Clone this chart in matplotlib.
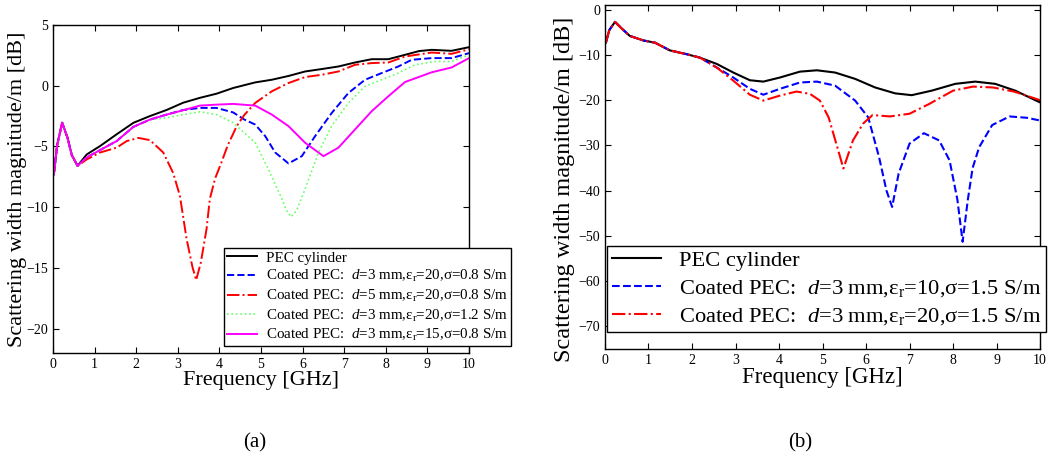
import matplotlib
matplotlib.use("Agg")
import matplotlib.pyplot as plt

plt.rcParams["font.family"] = ["Liberation Serif", "DejaVu Serif"]
plt.rcParams["mathtext.fontset"] = "custom"
plt.rcParams["mathtext.rm"] = "Liberation Serif"
plt.rcParams["mathtext.it"] = "Liberation Serif:italic"

# ---- panel (a) data ----
a_black_f = [0.02, 0.1, 0.22, 0.35, 0.45, 0.59, 0.81, 1.13, 1.53, 1.93, 2.33, 2.73, 3.13, 3.53,
             3.93, 4.33, 4.86, 5.26, 5.66, 6.06, 6.46, 6.86, 7.26, 7.66, 8.06, 8.46, 8.8, 9.1,
             9.58, 10.0]
a_black_db = [-7.3, -4.9, -3.05, -4.3, -5.7, -6.6, -5.66, -4.97, -4.0, -3.06, -2.5, -2.0, -1.4,
              -1.0, -0.66, -0.19, 0.27, 0.49, 0.8, 1.17, 1.37, 1.58, 1.91, 2.18, 2.18, 2.54, 2.85,
              2.95, 2.87, 3.17]

a_blue_f = [0.02, 0.1, 0.22, 0.35, 0.45, 0.59, 0.81, 1.13, 1.53, 1.93, 2.33, 2.73, 3.13, 3.53,
            3.93, 4.33, 4.6, 4.86, 5.1, 5.34, 5.66, 5.98, 6.3, 6.7, 7.1, 7.5, 7.9, 8.3, 8.62,
            9.1, 9.58, 10.0]
a_blue_db = [-7.3, -4.9, -3.05, -4.3, -5.7, -6.6, -5.9, -5.3, -4.56, -3.39, -2.79, -2.38, -2.0,
             -1.83, -1.83, -2.2, -2.79, -3.2, -4.15, -5.5, -6.4, -5.8, -4.15, -2.24, -0.6, 0.49,
             1.04, 1.58, 2.13, 2.27, 2.27, 2.68]

a_red_f = [0.02, 0.1, 0.22, 0.35, 0.45, 0.59, 0.81, 1.13, 1.53, 1.77, 2.05, 2.33, 2.65, 2.89,
           3.05, 3.21, 3.35, 3.44, 3.55, 3.69, 3.77, 3.9, 4.05, 4.2, 4.42, 4.6, 4.86, 5.26, 5.66,
           6.06, 6.46, 6.86, 7.26, 7.66, 8.06, 8.46, 9.1, 9.58, 10.0]
a_red_db = [-7.3, -4.9, -3.05, -4.3, -5.7, -6.6, -6.07, -5.5, -5.1, -4.56, -4.3, -4.48, -5.5,
            -7.2, -9.07, -12.6, -14.9, -16.0, -14.6, -11.8, -9.3, -7.6, -6.3, -4.9, -3.3, -2.4,
            -1.42, -0.46, 0.22, 0.71, 0.9, 1.17, 1.72, 1.86, 1.91, 2.4, 2.73, 2.62, 3.0]

a_green_f = [0.02, 0.1, 0.22, 0.35, 0.45, 0.59, 0.81, 1.13, 1.53, 1.93, 2.33, 2.73, 3.13, 3.53,
             3.93, 4.33, 4.6, 4.86, 5.18, 5.5, 5.6, 5.72, 5.85, 6.06, 6.38, 6.7, 7.1, 7.5, 7.9,
             8.3, 8.7, 9.18, 9.58, 10.0]
a_green_db = [-7.3, -4.9, -3.05, -4.3, -5.7, -6.6, -5.9, -5.3, -4.56, -3.39, -2.79, -2.65, -2.38,
              -2.15, -2.38, -3.06, -3.88, -4.7, -6.9, -9.3, -10.2, -10.8, -10.3, -8.5, -5.5, -3.3,
              -1.42, -0.05, 0.49, 1.04, 1.72, 1.99, 1.99, 2.54]

a_mag_f = [0.02, 0.1, 0.22, 0.35, 0.45, 0.59, 0.81, 1.13, 1.53, 1.93, 2.33, 2.73, 3.13, 3.53,
           3.93, 4.33, 4.86, 5.26, 5.66, 6.06, 6.5, 6.86, 7.26, 7.66, 8.06, 8.46, 9.1, 9.58, 10.0]
a_mag_db = [-7.3, -4.9, -3.05, -4.3, -5.7, -6.6, -5.9, -5.3, -4.56, -3.39, -2.79, -2.38, -2.02,
            -1.64, -1.56, -1.5, -1.64, -2.38, -3.33, -4.7, -5.8, -5.1, -3.6, -2.1, -0.87, 0.3,
            1.1, 1.5, 2.27]

a_labels = [
    "PEC cylinder",
    r"Coated PEC:  $d$=3 mm,ε$_\mathrm{r}$=20,σ=0.8 S/m",
    r"Coated PEC:  $d$=5 mm,ε$_\mathrm{r}$=20,σ=0.8 S/m",
    r"Coated PEC:  $d$=3 mm,ε$_\mathrm{r}$=20,σ=1.2 S/m",
    r"Coated PEC:  $d$=3 mm,ε$_\mathrm{r}$=15,σ=0.8 S/m",
]

# ---- panel (b) data ----
b_black_f = [0.02, 0.1, 0.23, 0.4, 0.57, 0.88, 1.15, 1.49, 1.88, 2.18, 2.57, 2.95, 3.33, 3.64,
             4.02, 4.48, 4.87, 5.29, 5.75, 6.21, 6.67, 7.05, 7.51, 8.05, 8.51, 8.97, 9.43, 10.0]
b_black_db = [-7.3, -4.5, -2.7, -4.3, -5.8, -6.8, -7.3, -9.0, -9.85, -10.6, -12.0, -13.9, -15.6,
              -15.9, -15.0, -13.7, -13.4, -13.9, -15.3, -17.2, -18.5, -18.9, -17.9, -16.4, -15.9,
              -16.4, -17.9, -20.5]

b_blue_f = [0.02, 0.1, 0.23, 0.4, 0.57, 0.88, 1.15, 1.49, 1.88, 2.18, 2.57, 2.95, 3.33, 3.64,
            4.02, 4.48, 4.87, 5.29, 5.75, 6.05, 6.3, 6.47, 6.6, 6.75, 7.0, 7.33, 7.68, 7.92, 8.1,
            8.22, 8.34, 8.45, 8.6, 8.9, 9.3, 9.7, 10.0]
b_blue_db = [-7.3, -4.5, -2.7, -4.3, -5.8, -6.8, -7.3, -9.0, -9.85, -10.6, -12.8, -15.0, -17.5,
             -18.8, -17.5, -16.1, -15.9, -16.8, -20.1, -23.8, -32.6, -40.0, -43.6, -36.2, -29.6,
             -27.3, -28.9, -33.3, -42.0, -51.3, -42.0, -35.0, -30.4, -25.5, -23.6, -23.9, -24.5]

b_red_f = [0.02, 0.1, 0.23, 0.4, 0.57, 0.88, 1.15, 1.49, 1.88, 2.18, 2.57, 2.95, 3.33, 3.64,
           4.02, 4.4, 4.71, 4.94, 5.14, 5.34, 5.48, 5.7, 5.93, 6.15, 6.55, 7.0, 7.46, 8.0, 8.46,
           8.92, 9.4, 10.0]
b_red_db = [-7.3, -4.5, -2.7, -4.3, -5.8, -6.8, -7.3, -9.0, -9.85, -10.6, -12.8, -15.7, -18.8,
            -20.1, -19.0, -18.1, -18.6, -20.1, -23.8, -30.4, -35.1, -28.9, -25.2, -23.3, -23.6,
            -23.0, -20.8, -17.9, -17.0, -17.2, -18.1, -20.0]

b_labels = [
    "PEC cylinder",
    r"Coated PEC:  $d$=3 mm,ε$_\mathrm{r}$=10,σ=1.5 S/m",
    r"Coated PEC:  $d$=3 mm,ε$_\mathrm{r}$=20,σ=1.5 S/m",
]

xticks = list(range(0, 11))
a_yticks = [-20, -15, -10, -5, 0, 5]
b_yticks = [0, -10, -20, -30, -40, -50, -60, -70]

BLUE = "#0000ff"
RED = "#ff0000"
GREEN = "#66ff66"
MAG = "#ff00ff"


def style_axes(ax, label_size):
    ax.set_xlim(0, 10)
    ax.set_xticks(xticks)
    ax.tick_params(direction="in", top=True, right=True, labelsize=label_size, length=4,
                   width=0.8)
    for s in ax.spines.values():
        s.set_linewidth(1.0)


fig = plt.figure(figsize=(10.56, 4.66), dpi=100)

# (a)
ax1 = fig.add_axes([0.0502, 0.2425, 0.394, 0.704])
ax1.plot(a_black_f, a_black_db, "-", color="k", lw=1.4, label=a_labels[0])
ax1.plot(a_blue_f, a_blue_db, "--", color=BLUE, lw=1.4, label=a_labels[1])
ax1.plot(a_red_f, a_red_db, "-.", color=RED, lw=1.4, label=a_labels[2])
ax1.plot(a_green_f, a_green_db, ":", color=GREEN, lw=1.2, label=a_labels[3])
ax1.plot(a_mag_f, a_mag_db, "-", color=MAG, lw=1.4, label=a_labels[4])
style_axes(ax1, 10)
ax1.set_ylim(-22, 5)
ax1.set_yticks(a_yticks)
ax1.set_yticklabels(["\u221220", "\u221215", "\u221210", "\u22125", "0", "5"])
ax1.set_xlabel("Frequency [GHz]", fontsize=16, labelpad=0)
ax1.set_ylabel("Scattering width magnitude/m [dB]", fontsize=16)
ax1.yaxis.set_label_coords(-0.062, 0.5)
leg1 = ax1.legend(loc="upper left", bbox_to_anchor=(0.411, 0.32), fontsize=10.8,
                  frameon=True, fancybox=False, edgecolor="k", framealpha=1,
                  handlelength=2.0, labelspacing=0.24, borderpad=0.2, handletextpad=0.6,
                  borderaxespad=0)
leg1.get_frame().set_linewidth(1.0)
fig.text(0.2415, 0.03, "(a)", fontsize=15, ha="center", va="bottom")

# (b)
ax2 = fig.add_axes([0.5729, 0.251, 0.412, 0.738])
ax2.plot(b_black_f, b_black_db, "-", color="k", lw=1.5, label=b_labels[0])
ax2.plot(b_blue_f, b_blue_db, "--", color=BLUE, lw=1.5, label=b_labels[1])
ax2.plot(b_red_f, b_red_db, "-.", color=RED, lw=1.5, label=b_labels[2])
style_axes(ax2, 10)
ax2.set_ylim(-75, 1)
ax2.set_yticks(b_yticks)
ax2.set_yticklabels(["0", "\u221210", "\u221220", "\u221230", "\u221240", "\u221250",
                     "\u221260", "\u221270"])
ax2.set_xlabel("Frequency [GHz]", fontsize=16.5, labelpad=0)
ax2.set_ylabel("Scattering width magnitude/m [dB]", fontsize=17.5)
ax2.yaxis.set_label_coords(-0.068, 0.465)
leg2 = ax2.legend(loc="upper left", bbox_to_anchor=(0.005, 0.30), fontsize=16.2,
                  frameon=True, fancybox=False, edgecolor="k", framealpha=1,
                  handlelength=2.2, labelspacing=0.3, borderpad=0.2, handletextpad=0.8,
                  borderaxespad=0)
leg2.get_frame().set_linewidth(1.0)
fig.text(0.758, 0.03, "(b)", fontsize=15, ha="center", va="bottom")

fig.savefig("out.png", dpi=100)
